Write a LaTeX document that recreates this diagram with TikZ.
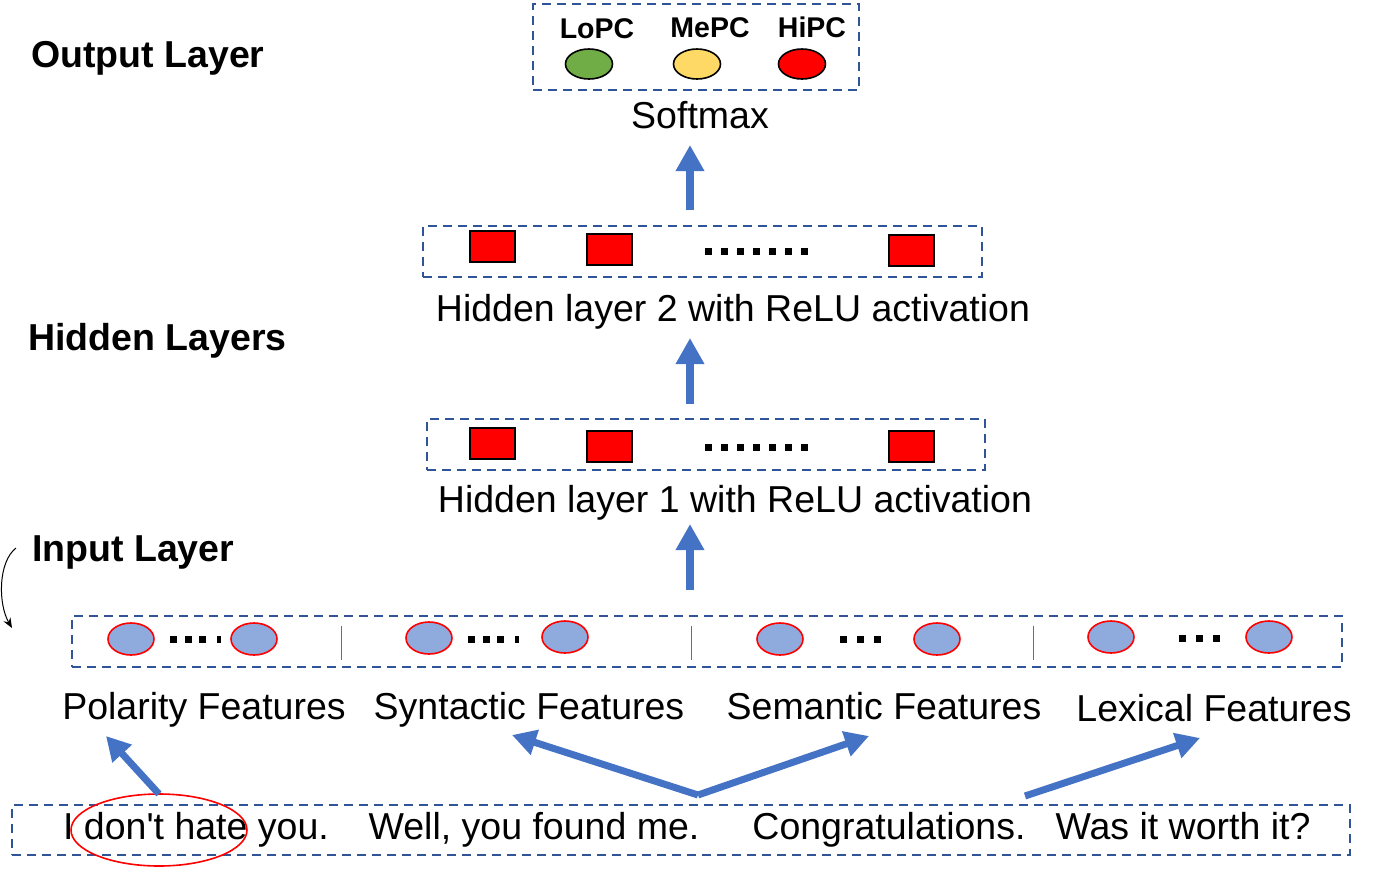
\documentclass[tikz,border=0pt]{standalone}
\usepackage{fontspec}
\setmainfont{Liberation Sans}
\newfontfamily\libsans{Liberation Sans}
\usetikzlibrary{arrows.meta,shapes.geometric}
\definecolor{boxblue}{HTML}{2F5597}
\definecolor{arrblue}{HTML}{4472C4}
\definecolor{featfill}{HTML}{8FAADC}
\definecolor{lowgreen}{HTML}{70AD47}
\definecolor{medyellow}{HTML}{FFD966}
\tikzset{
  dbox/.style={draw=boxblue, line width=1.6pt, dash pattern=on 9pt off 6pt, inner sep=0pt},
  txt/.style={inner sep=0pt, anchor=base, font=\libsans\fontsize{37.5}{44}\selectfont},
  btxt/.style={inner sep=0pt, anchor=base west, font=\libsans\fontsize{37.5}{44}\selectfont\bfseries},
  ctxt/.style={inner sep=0pt, anchor=base, font=\libsans\fontsize{28.5}{33}\selectfont\bfseries},
  bigarrow/.style={draw=arrblue, line width=8pt, -{Triangle[length=26pt,width=27pt]}, arrblue},
  diagarrow/.style={draw=arrblue, line width=7pt, -{Triangle[length=24pt,width=25pt]}, arrblue},
  hsq/.style={draw=black, line width=2pt, fill=red, minimum width=45pt, minimum height=31pt, inner sep=0pt},
  feat/.style={ellipse, draw=red, line width=1.6pt, fill=featfill, minimum width=46pt, minimum height=32pt, inner sep=0pt},
  outc/.style={ellipse, draw=black, line width=1.6pt, minimum width=47pt, minimum height=30pt, inner sep=0pt},
  sep/.style={draw=arrblue, line width=1pt},
  dot/.style={fill=black},
}
\begin{document}
\begin{tikzpicture}[x=1pt,y=-1pt]
\path[use as bounding box] (0,0) rectangle (1377,871);

% ---------- left labels ----------
\node[btxt] (lout) at (31,67) {Output Layer};
\node[btxt] (lhid) at (28,350) {Hidden Layers};
\node[btxt] (lin) at (32,561) {Input Layer};
\coordinate (cs) at (16,548);
\coordinate (ce) at (12,628);
\draw[line width=1pt, -{Stealth[length=10pt,width=8pt]}] (cs) .. controls (-2,562) and (-2,604) .. (ce);

% ---------- output layer ----------
\node[dbox, minimum width=326pt, minimum height=86pt] (outbox) at (696,47) {};
\node[outc, fill=lowgreen] (lopc) at (589,64) {};
\node[outc, fill=medyellow] (mepc) at (697,64) {};
\node[outc, fill=red] (hipc) at (802,64) {};
\node[ctxt] (tlopc) at (597,38) {LoPC};
\node[ctxt] (tmepc) at (710,37) {MePC};
\node[ctxt] (thipc) at (812,37) {HiPC};
\node[txt] (softmax) at (700,128) {Softmax};

% ---------- hidden layer 2 ----------
\node[dbox, minimum width=559pt, minimum height=51pt] (h2box) at (702.5,251.5) {};
\node[hsq] (h2a) at (492,246.5) {};
\node[hsq] (h2b) at (609,249.5) {};
\node[hsq] (h2c) at (911.5,250.5) {};
\foreach \i in {0,...,6} \fill[dot] (705+\i*16,247.5) rectangle +(7,7);
\node[txt] (h2lab) at (733,321) {Hidden layer 2 with ReLU activation};

% ---------- hidden layer 1 ----------
\node[dbox, minimum width=558pt, minimum height=51pt] (h1box) at (706,444.5) {};
\node[hsq] (h1a) at (492,443.5) {};
\node[hsq] (h1b) at (609,446.5) {};
\node[hsq] (h1c) at (911.5,446.5) {};
\foreach \i in {0,...,6} \fill[dot] (705+\i*16,443.5) rectangle +(7,7);
\node[txt] (h1lab) at (735,512) {Hidden layer 1 with ReLU activation};

% ---------- vertical arrows ----------
\coordinate (v1s) at (690,590); \coordinate (v1e) at (690,524);
\coordinate (v2s) at (690,404); \coordinate (v2e) at (690,338);
\coordinate (v3s) at (690,210); \coordinate (v3e) at (690,145);
\draw[bigarrow] (v1s) -- (v1e);
\draw[bigarrow] (v2s) -- (v2e);
\draw[bigarrow] (v3s) -- (v3e);

% ---------- input layer ----------
\node[dbox, minimum width=1270pt, minimum height=51pt] (inbox) at (707,641.5) {};
\coordinate (s1a) at (341,626); \coordinate (s1b) at (341,660);
\coordinate (s2a) at (691,626); \coordinate (s2b) at (691,660);
\coordinate (s3a) at (1033,626); \coordinate (s3b) at (1033,660);
\draw[sep] (s1a) -- (s1b);
\draw[sep] (s2a) -- (s2b);
\draw[sep] (s3a) -- (s3b);
\node[feat] (f1a) at (131,639) {};
\node[feat] (f1b) at (254,639) {};
\node[feat] (f2a) at (429,638) {};
\node[feat] (f2b) at (565,637) {};
\node[feat] (f3a) at (780,639) {};
\node[feat] (f3b) at (937,639) {};
\node[feat] (f4a) at (1111,637) {};
\node[feat] (f4b) at (1269,637) {};
\foreach \x in {170,185,199} \fill[dot] (\x,636) rectangle +(7,7);
\fill[dot] (217,636) rectangle +(4,7);
\foreach \x in {468,483,497} \fill[dot] (\x,636) rectangle +(7,7);
\fill[dot] (515,636) rectangle +(4,7);
\foreach \x in {840,857,874} \fill[dot] (\x,636) rectangle +(7,7);
\foreach \x in {1179,1196,1213} \fill[dot] (\x,635) rectangle +(7,7);

\node[txt] (pol) at (204,719) {Polarity Features};
\node[txt] (syn) at (529,719) {Syntactic Features};
\node[txt] (sem) at (884,719) {Semantic Features};
\node[txt] (lex) at (1214,721) {Lexical Features};

% ---------- sentences ----------
\node[dbox, minimum width=1338pt, minimum height=50pt] (sbox) at (681,830) {};
\node[txt] (s1) at (196,839) {I don't hate you.};
\node[txt] (s2) at (534,839) {Well, you found me.};
\node[txt] (s3) at (889,839) {Congratulations.};
\node[txt] (s4) at (1183,839) {Was it worth it?};
\node[ellipse, draw=red, line width=1.6pt, minimum width=176pt, minimum height=72pt, inner sep=0pt] (hl) at (159,830) {};

% ---------- diagonal arrows ----------
\coordinate (pt) at (159,794);
\coordinate (vt) at (698,795);
\coordinate (lt) at (1025,796);
\coordinate (pe) at (106,736);
\coordinate (se) at (512,735);
\coordinate (me) at (869,736);
\coordinate (le) at (1200,738);
\draw[diagarrow] (pt) -- (pe);
\draw[diagarrow] (vt) -- (se);
\draw[diagarrow] (vt) -- (me);
\draw[diagarrow] (lt) -- (le);
\end{tikzpicture}
\end{document}
